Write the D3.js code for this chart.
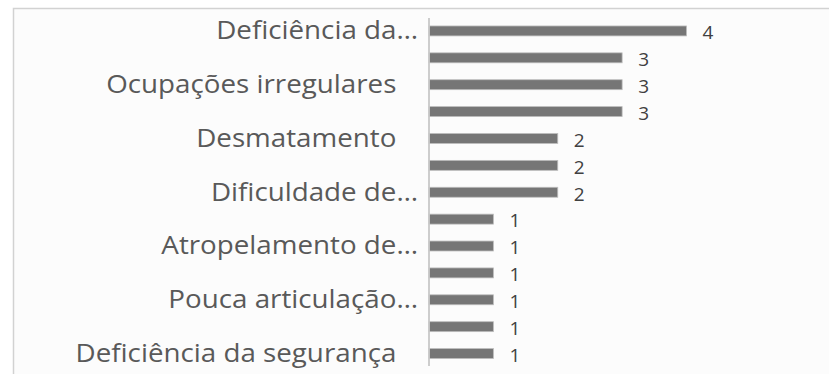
<!DOCTYPE html>
<html>
<head>
<meta charset="utf-8">
<script src="https://cdn.jsdelivr.net/npm/d3@7"></script>
<style>
  html, body { margin: 0; padding: 0; background: #ffffff; }
  svg { display: block; }
  .cat text { white-space: pre; }
</style>
</head>
<body>
<svg id="chart" width="829" height="374"></svg>
<script>
// Category labels as displayed (every other label is hidden by the axis)
const categories = [
  "Deficiência da…", "", "Ocupações irregulares   ", "", "Desmatamento   ", "",
  "Dificuldade de…", "", "Atropelamento de…", "", "Pouca articulação…", "",
  "Deficiência da segurança   "
];
const values = [4, 3, 3, 3, 2, 2, 2, 1, 1, 1, 1, 1, 1];
const labelledTicks = [0, 2, 4, 6, 8, 10, 12];

const svg = d3.select("#chart");

// chart area frame
svg.append("rect")
  .attr("x", 13.5).attr("y", 8.5)
  .attr("width", 840).attr("height", 400)
  .attr("fill", "#fcfcfc")
  .attr("stroke", "#d2d2d2")
  .attr("stroke-width", 1.5);

const idx = values.map((_, i) => i);

const y = d3.scaleBand()
  .domain(idx)
  .range([17.5, 367])
  .paddingInner(0.63)
  .paddingOuter(0.315);

const x = d3.scaleLinear()
  .domain([0, 4])
  .range([429, 686.5]);

// bars
svg.append("g")
  .selectAll("rect")
  .data(values)
  .join("rect")
  .attr("x", x(0))
  .attr("y", (d, i) => y(i))
  .attr("width", d => x(d) - x(0))
  .attr("height", y.bandwidth())
  .attr("fill", "#767676")
  .attr("stroke", "#bdbdbd")
  .attr("stroke-width", 0.8);

// vertical category axis
const yAxis = d3.axisLeft(y)
  .tickValues(labelledTicks)
  .tickFormat(i => categories[i])
  .tickSize(0)
  .tickPadding(0);

const gAxis = svg.append("g")
  .attr("class", "cat")
  .attr("transform", `translate(${x(0) - 11},0)`)
  .call(yAxis);

gAxis.select(".domain").remove();
gAxis.selectAll("text")
  .attr("fill", "#595959")
  .attr("font-family", "'Open Sans', sans-serif")
  .attr("font-size", "25px")
  .attr("dy", null)
  .attr("x", 0)
  .attr("y", 8.3)
  .attr("transform", "scale(1.11,1)");

// axis line
svg.append("line")
  .attr("x1", x(0)).attr("x2", x(0))
  .attr("y1", 18).attr("y2", 366)
  .attr("stroke", "#c8c8c8")
  .attr("stroke-width", 1.8);

// value labels
svg.append("g")
  .selectAll("text")
  .data(values)
  .join("text")
  .attr("x", d => x(d) + 16)
  .attr("y", (d, i) => y(i) + y.bandwidth() / 2 + 8.3)
  .attr("fill", "#404040")
  .attr("font-family", "'Open Sans', sans-serif")
  .attr("font-size", "19px")
  .text(d => d);
</script>
</body>
</html>
